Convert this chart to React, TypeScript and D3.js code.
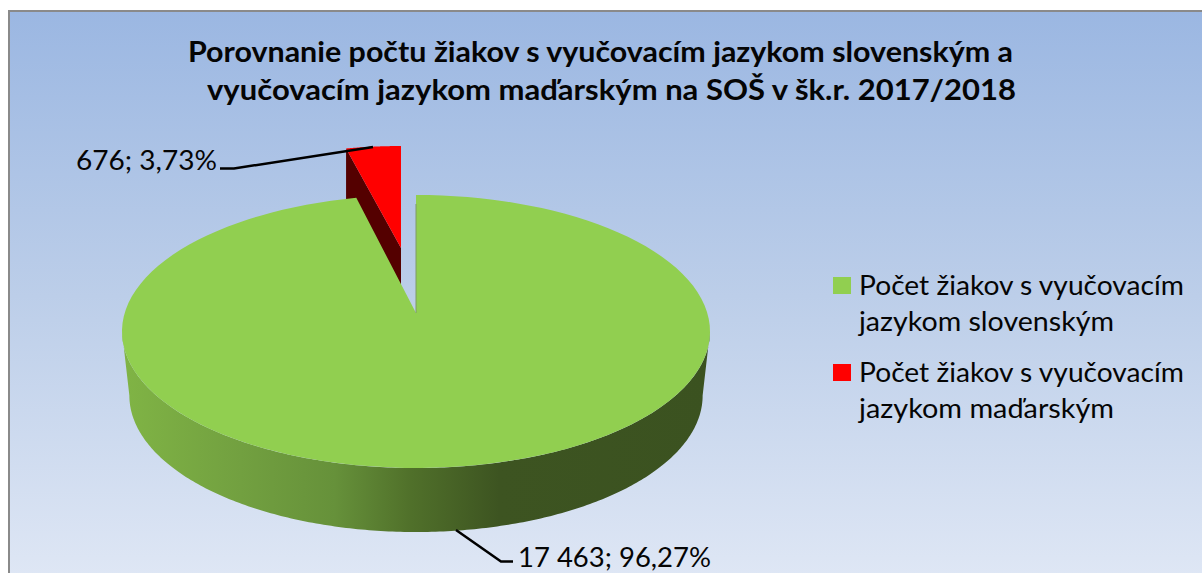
import React from "react";
import * as d3 from "d3";

const titleLines = [
  "Porovnanie počtu žiakov s vyučovacím jazykom slovenským a",
  "vyučovacím jazykom maďarským na SOŠ v šk.r. 2017/2018",
];
const categories = ["Počet žiakov s vyučovacím jazykom slovenským", "Počet žiakov s vyučovacím jazykom maďarským"];
const legendLines = [
  ["Počet žiakov s vyučovacím", "jazykom slovenským"],
  ["Počet žiakov s vyučovacím", "jazykom maďarským"],
];
const values = [17463, 676];
const dataLabels = ["17 463; 96,27%", "676; 3,73%"];
const colors = ["#91cf50", "#ff0000"];
const FONT = "Lato, 'Open Sans', sans-serif";

const P = 0.1355;
type Geo = { cx: number; cy: number; kx: number; ky: number };
const project = (g: Geo, a: number): [number, number] => {
  const u = Math.sin(a), v = Math.cos(a), d = 1 + P * v;
  return [g.cx + (g.kx * u) / d, g.cy - (g.ky * v) / d];
};
const sector = (g: Geo, a0: number, a1: number) => {
  const pts = d3.range(0, 121).map((i) => project(g, a0 + ((a1 - a0) * i) / 120));
  return "M" + g.cx + "," + g.cy + "L" + pts.map((p) => p.join(",")).join("L") + "Z";
};

export default function App() {
  const arcs = d3.pie<number>().sort(null)(values);
  const gGreen: Geo = { cx: 416, cy: 313, kx: 291.3, ky: 134 };
  const depth = 64;
  const gGreenLow: Geo = { cx: 416, cy: 313 + depth, kx: 284, ky: 134 };
  const gRed: Geo = { cx: 401, cy: 248, kx: 268, ky: 115.8 };
  const green = arcs[0], red = arcs[1];

  const a0 = Math.acos(-P);
  const span = 2 * Math.PI - 2 * a0;
  const topRim = d3.range(0, 241).map((i) => project(gGreen, a0 + (span * i) / 240));
  const lowRim = d3.range(0, 241).map((i) => project(gGreenLow, a0 + (span * i) / 240));
  const rim =
    "M" + topRim.map((p) => p.join(",")).join("L") +
    "L" + lowRim.reverse().map((p) => p.join(",")).join("L") + "Z";

  const redEnd = project(gRed, red.startAngle);
  const redSide =
    `M${gRed.cx},${gRed.cy}L${redEnd[0]},${redEnd[1]}` +
    `L${redEnd[0]},${redEnd[1] + depth}L${gRed.cx},${gRed.cy + depth}Z`;

  return (
    <svg width={1202} height={573} style={{ position: "absolute", left: 0, top: 0, display: "block" }}>
      <defs>
        <linearGradient id="bg" x1="0" y1="0" x2="0" y2="1">
          <stop offset="0" stopColor="#9bb7e2" />
          <stop offset="0.5" stopColor="#bccee9" />
          <stop offset="1" stopColor="#dfe7f5" />
        </linearGradient>
        <linearGradient id="rim" gradientUnits="userSpaceOnUse" x1="123" y1="0" x2="711" y2="0">
          <stop offset="0" stopColor="#80b445" />
          <stop offset="0.2" stopColor="#72a040" />
          <stop offset="0.36" stopColor="#66913a" />
          <stop offset="0.49" stopColor="#50702a" />
          <stop offset="0.64" stopColor="#3d5421" />
          <stop offset="1" stopColor="#3b5220" />
        </linearGradient>
      </defs>
      <rect x={0} y={0} width={1202} height={573} fill="#ffffff" />
      <rect x={9} y={11} width={1200} height={570} fill="url(#bg)" stroke="#8a8a8a" strokeWidth={2} />

      <path d={redSide} fill="#540000" />
      <path d={sector(gRed, red.startAngle, red.endAngle)} fill={colors[1]} />

      <path d={rim} fill="url(#rim)" />
      <path d={sector(gGreen, green.startAngle, green.endAngle)} fill={colors[0]} />
      <line x1={416} y1={204} x2={416} y2={313} stroke="#7f9a66" strokeWidth={1} />

      <path d="M220,168.5H234L373,147" fill="none" stroke="#000" strokeWidth={2.5} />
      <path d="M456,530L501,561.5H513" fill="none" stroke="#000" strokeWidth={2.5} />

      <g fontFamily={FONT} fill="#050505">
        {titleLines.map((t, i) => (
          <text key={t} x={i === 0 ? 188 : 207} y={62 + i * 38} fontSize={28.5} fontWeight={700} textLength={i === 0 ? 825 : 809} lengthAdjust="spacingAndGlyphs">
            {t}
          </text>
        ))}
        <text x={76} y={170} fontSize={27} textLength={141} lengthAdjust="spacingAndGlyphs">{dataLabels[1]}</text>
        <text x={518} y={567} fontSize={27} textLength={193} lengthAdjust="spacingAndGlyphs">{dataLabels[0]}</text>
        {categories.map((c, i) => (
          <g key={c}>
            <rect x={833} y={277 + i * 87} width={18} height={17} fill={colors[i]} />
            {legendLines[i].map((l, j) => (
              <text key={l} x={859} y={295 + i * 87 + j * 36} fontSize={27} textLength={j === 0 ? 325 : 255} lengthAdjust="spacingAndGlyphs">
                {l}
              </text>
            ))}
          </g>
        ))}
      </g>
    </svg>
  );
}
